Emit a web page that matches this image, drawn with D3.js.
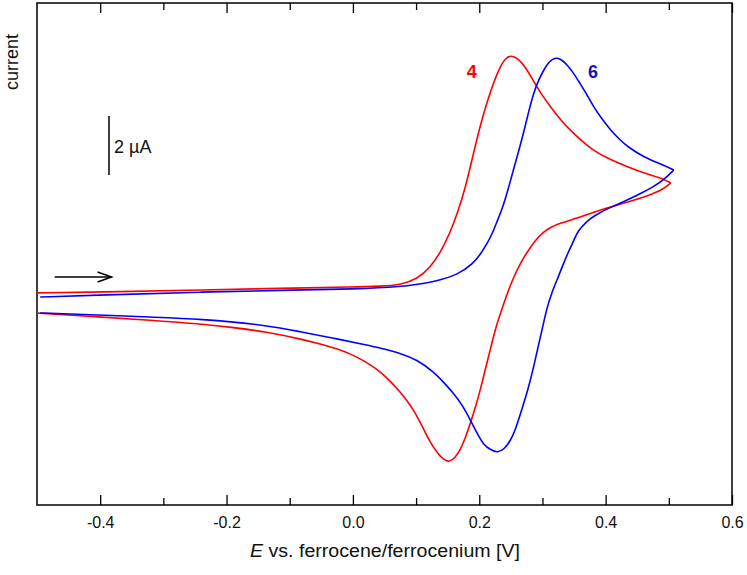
<!DOCTYPE html>
<html>
<head>
<meta charset="utf-8">
<script src="https://cdn.jsdelivr.net/npm/d3@7"></script>
<style>
  body { margin: 0; background: #fff; }
  svg { display: block; font-family: "Liberation Sans", Arial, sans-serif; }
</style>
</head>
<body>
<div id="chart"></div>
<script>
// potential [V] vs current [µA]
const red4Forward = [
  [-0.500, 0.24], [-0.400, 0.27], [-0.242, 0.34], [-0.083, 0.41], [0.000, 0.44],
  [0.044, 0.47], [0.075, 0.51], [0.102, 0.71], [0.123, 1.12], [0.139, 1.63],
  [0.153, 2.24], [0.166, 2.98], [0.178, 3.80], [0.189, 4.81], [0.202, 5.97],
  [0.218, 7.12], [0.234, 7.97], [0.242, 8.20], [0.251, 8.30], [0.262, 8.17],
  [0.273, 7.90], [0.286, 7.42], [0.299, 6.95], [0.313, 6.54], [0.329, 6.10],
  [0.345, 5.73], [0.361, 5.42], [0.381, 5.05], [0.408, 4.75], [0.435, 4.51],
  [0.460, 4.31], [0.487, 4.14], [0.503, 3.97]
];
const red4Reverse = [
  [0.487, 3.69], [0.460, 3.49], [0.435, 3.32], [0.408, 3.15], [0.381, 2.98],
  [0.356, 2.78], [0.329, 2.61], [0.313, 2.47], [0.302, 2.31], [0.289, 2.03],
  [0.277, 1.66], [0.265, 1.25], [0.254, 0.75], [0.245, 0.27], [0.237, -0.24],
  [0.227, -0.85], [0.218, -1.63], [0.210, -2.31], [0.202, -3.02], [0.194, -3.63],
  [0.186, -4.17], [0.178, -4.68], [0.170, -5.08], [0.162, -5.34], [0.153, -5.50],
  [0.143, -5.41], [0.134, -5.19], [0.126, -4.95], [0.118, -4.64], [0.107, -4.17],
  [0.096, -3.73], [0.086, -3.42], [0.075, -3.12], [0.059, -2.75], [0.044, -2.44],
  [0.028, -2.20], [0.012, -2.00], [-0.004, -1.83], [-0.020, -1.69], [-0.052, -1.49],
  [-0.083, -1.32], [-0.136, -1.08], [-0.194, -0.92], [-0.242, -0.81], [-0.321, -0.68],
  [-0.400, -0.58], [-0.500, -0.44]
];
const blue6Forward = [
  [-0.495, 0.10], [-0.400, 0.17], [-0.242, 0.27], [-0.083, 0.34], [0.000, 0.37],
  [0.075, 0.44], [0.128, 0.61], [0.166, 0.85], [0.191, 1.25], [0.202, 1.56],
  [0.213, 1.93], [0.221, 2.27], [0.229, 2.71], [0.236, 3.08], [0.242, 3.49],
  [0.248, 3.93], [0.254, 4.41], [0.262, 5.02], [0.270, 5.66], [0.278, 6.37],
  [0.286, 7.02], [0.294, 7.46], [0.302, 7.80], [0.310, 8.07], [0.319, 8.22],
  [0.329, 8.17], [0.338, 8.00], [0.348, 7.73], [0.357, 7.42], [0.369, 7.02],
  [0.381, 6.54], [0.394, 6.14], [0.408, 5.76], [0.421, 5.46], [0.435, 5.19],
  [0.460, 4.85], [0.487, 4.61], [0.508, 4.41]
];
const blue6Reverse = [
  [0.492, 4.07], [0.475, 3.83], [0.460, 3.66], [0.435, 3.39], [0.408, 3.15],
  [0.381, 2.85], [0.369, 2.64], [0.356, 2.34], [0.350, 2.03], [0.341, 1.63],
  [0.333, 1.22], [0.325, 0.78], [0.315, 0.27], [0.307, -0.27], [0.300, -0.95],
  [0.292, -1.69], [0.285, -2.37], [0.277, -3.05], [0.266, -3.80], [0.257, -4.41],
  [0.249, -4.78], [0.240, -5.05], [0.229, -5.18], [0.218, -5.08], [0.207, -4.92],
  [0.197, -4.54], [0.186, -4.07], [0.174, -3.59], [0.159, -3.15], [0.143, -2.78],
  [0.128, -2.44], [0.102, -2.03], [0.075, -1.80], [0.044, -1.63], [0.023, -1.53],
  [-0.031, -1.29], [-0.083, -1.08], [-0.136, -0.85], [-0.242, -0.64], [-0.321, -0.58],
  [-0.400, -0.51], [-0.495, -0.44]
];
const xMajorTicks = [-0.4, -0.2, 0.0, 0.2, 0.4, 0.6];
const xMinorTicks = [-0.3, -0.1, 0.1, 0.3, 0.5];

const width = 747, height = 575;
const margin = { top: 3, right: 15, bottom: 70, left: 37 };

const svg = d3.select("#chart").append("svg")
  .attr("width", width)
  .attr("height", height);

const x = d3.scaleLinear()
  .domain([-0.5, 0.6])
  .range([margin.left, width - margin.right]);

// 0 µA sits at y=300, 29.5 px per µA
const y = d3.scaleLinear()
  .domain([-(height - margin.bottom - 300) / 29.5, (300 - margin.top) / 29.5])
  .range([height - margin.bottom, margin.top]);

const line = d3.line()
  .x(d => x(d[0]))
  .y(d => y(d[1]))
  .curve(d3.curveBasis);

const plotH = height - margin.bottom - margin.top;

function styleTicks(g) {
  g.select(".domain").remove();
  g.selectAll(".tick line").attr("stroke", "#000").attr("stroke-width", 1.3);
}

// bottom axis with inward ticks
const bottomAxis = svg.append("g").attr("transform", `translate(0,${height - margin.bottom})`);
bottomAxis.call(d3.axisBottom(x).tickValues(xMajorTicks).tickSize(-10))
  .call(styleTicks)
  .call(g => g.selectAll(".tick text").attr("dy", "0.71em").attr("y", 12)
    .attr("font-size", 16).attr("fill", "#111").attr("font-family", "Liberation Sans, Arial, sans-serif")
    .text(d => d3.format(".1f")(d).replace("−", "-")));
bottomAxis.append("g").call(d3.axisBottom(x).tickValues(xMinorTicks).tickSize(-7).tickFormat(""))
  .call(styleTicks);

// top axis with inward ticks
const topAxis = svg.append("g").attr("transform", `translate(0,${margin.top})`);
topAxis.call(d3.axisTop(x).tickValues(xMajorTicks).tickSize(-10).tickFormat(""))
  .call(styleTicks);
topAxis.append("g").call(d3.axisTop(x).tickValues(xMinorTicks).tickSize(-7).tickFormat(""))
  .call(styleTicks);

// frame
svg.append("rect")
  .attr("x", margin.left).attr("y", margin.top)
  .attr("width", width - margin.left - margin.right)
  .attr("height", plotH)
  .attr("fill", "none").attr("stroke", "#000").attr("stroke-width", 1.5);

// curves: forward and reverse sweeps drawn separately so the switching point stays sharp
const sweeps = [
  { data: red4Forward, color: "#ff0000" },
  { data: [red4Forward[red4Forward.length - 1]].concat(red4Reverse), color: "#ff0000" },
  { data: blue6Forward, color: "#0000ff" },
  { data: [blue6Forward[blue6Forward.length - 1]].concat(blue6Reverse), color: "#0000ff" }
];
svg.selectAll("path.cv")
  .data(sweeps)
  .join("path")
  .attr("class", "cv")
  .attr("d", d => line(d.data))
  .attr("fill", "none")
  .attr("stroke", d => d.color)
  .attr("stroke-width", 1.6)
  .attr("stroke-linejoin", "round");

// compound labels
svg.append("text").attr("x", x(0.188)).attr("y", 78)
  .attr("text-anchor", "middle").attr("font-size", 18).attr("font-weight", "bold")
  .attr("fill", "#ff0000").text("4");
svg.append("text").attr("x", x(0.380)).attr("y", 78)
  .attr("text-anchor", "middle").attr("font-size", 18).attr("font-weight", "bold")
  .attr("fill", "#1515b8").text("6");

// scale bar 2 µA
svg.append("line")
  .attr("x1", 109).attr("x2", 109)
  .attr("y1", y(6.24)).attr("y2", y(4.24))
  .attr("stroke", "#000").attr("stroke-width", 1.5);
svg.append("text").attr("x", 114).attr("y", 153)
  .attr("font-size", 18).attr("fill", "#111").text("2 µA");

// scan direction arrow
const ay = y(0.78);
svg.append("line").attr("x1", x(-0.472)).attr("x2", x(-0.382))
  .attr("y1", ay).attr("y2", ay).attr("stroke", "#000").attr("stroke-width", 1.5);
svg.append("path")
  .attr("d", `M${x(-0.382) - 14},${ay - 5}L${x(-0.382)},${ay}L${x(-0.382) - 14},${ay + 5}`)
  .attr("fill", "none").attr("stroke", "#000").attr("stroke-width", 1.5);

// axis titles
svg.append("text")
  .attr("transform", `translate(18,${62}) rotate(-90)`)
  .attr("text-anchor", "middle").attr("font-size", 18).attr("fill", "#111")
  .text("current");

const xt = svg.append("text")
  .attr("x", 385).attr("y", 557)
  .attr("text-anchor", "middle").attr("font-size", 18).attr("fill", "#111")
  .attr("textLength", 270).attr("lengthAdjust", "spacingAndGlyphs");
xt.append("tspan").attr("font-style", "italic").text("E");
xt.append("tspan").text(" vs. ferrocene/ferrocenium [V]");
</script>
</body>
</html>
